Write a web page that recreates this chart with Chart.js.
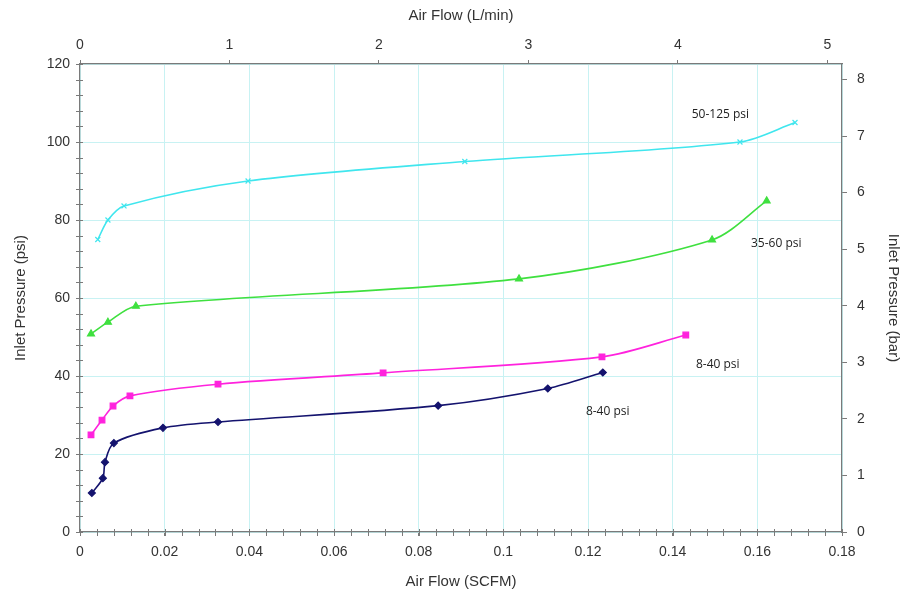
<!DOCTYPE html>
<html lang="en">
  <head>
    <meta charset="UTF-8" />
    <title>Inlet Pressure vs Air Flow</title>
    <script src="https://cdn.jsdelivr.net/npm/chart.js"></script>
    <style>
      html, body { margin: 0; padding: 0; background: #fff; }
      #wrap { width: 902px; height: 595px; }
    </style>
  </head>
  <body>
    <div id="wrap"><canvas id="chart" width="902" height="595"></canvas></div>
    <script>
      // data (x in SCFM, y in psi)
      const cyanX = [0.0042, 0.0066, 0.0104, 0.0397, 0.0909, 0.1559, 0.1689];
      const cyanY = [75, 80, 83.6, 90, 95, 100, 105];
      const greenX = [0.0026, 0.0066, 0.0132, 0.1037, 0.1493, 0.1622];
      const greenY = [50.8, 53.8, 57.9, 64.9, 74.9, 84.9];
      const pinkX = [0.0026, 0.0052, 0.0078, 0.0118, 0.0326, 0.0716, 0.1233, 0.1431];
      const pinkY = [24.9, 28.7, 32.3, 34.9, 37.9, 40.8, 44.9, 50.5];
      const navyX = [0.0028, 0.0054, 0.0059, 0.0080, 0.0196, 0.0326, 0.0846, 0.1105, 0.1235];
      const navyY = [10, 13.8, 17.9, 22.8, 26.7, 28.2, 32.4, 36.8, 40.9];

      const seriesNames = ['50-125 psi', '35-60 psi', '8-40 psi', '8-40 psi'];
      // where each series name sits, in data units
      const nameX = [0.1445, 0.1585, 0.1455, 0.1195];
      const nameY = [107, 74, 43, 31];

      // tick labels of the secondary axes
      const lpmTicks = [0, 1, 2, 3, 4, 5];
      const barTicks = [0, 1, 2, 3, 4, 5, 6, 7, 8];

      const SCFM_TO_LPM = 28.3168;
      const PSI_PER_BAR = 14.5038;
      const X_MAX = 0.18, Y_MAX = 120;

      const pts = (xs, ys) => xs.map((x, i) => ({ x: x, y: ys[i] }));

      const font = "'Liberation Sans', Arial, sans-serif";
      const tickFont = { family: font, size: 14 };
      const titleFont = { family: font, size: 15 };
      const gridCyan = '#c8f2f3';
      const axisGray = '#7a7a7a';

      function line(label, data, color, style, radius) {
        return {
          label: label, data: data, showLine: true,
          borderColor: color, backgroundColor: color, borderWidth: 1.6,
          pointStyle: style, pointRadius: radius, pointBorderWidth: 1.2,
          pointBorderColor: color, pointBackgroundColor: color,
          tension: 0.3
        };
      }

      // minor ticks on the left and bottom axes + series names
      const extras = {
        id: 'extras',
        afterDraw(chart) {
          const ctx = chart.ctx, xs = chart.scales.x, ys = chart.scales.y;
          const a = chart.chartArea;
          ctx.save();
          ctx.strokeStyle = axisGray;
          ctx.lineWidth = 1;
          ctx.beginPath();
          for (let v = 0; v <= Y_MAX + 0.01; v += 4) {
            const py = Math.round(ys.getPixelForValue(v)) + 0.5;
            ctx.moveTo(a.left - 4, py); ctx.lineTo(a.left + 3, py);
          }
          for (let i = 0; i <= 45; i++) {
            const px = Math.round(xs.getPixelForValue(i * 0.004)) + 0.5;
            ctx.moveTo(px, a.bottom - 3); ctx.lineTo(px, a.bottom + 4);
          }
          ctx.stroke();
          ctx.fillStyle = '#222';
          ctx.font = "12px 'Open Sans', sans-serif";
          ctx.textBaseline = 'middle';
          seriesNames.forEach((n, i) => {
            ctx.fillText(n, xs.getPixelForValue(nameX[i]), ys.getPixelForValue(nameY[i]));
          });
          ctx.restore();
        }
      };

      new Chart(document.getElementById('chart'), {
        type: 'scatter',
        data: {
          datasets: [
            line(seriesNames[0], pts(cyanX, cyanY), '#40e6ee', 'crossRot', 3.5),
            line(seriesNames[1], pts(greenX, greenY), '#3fe03f', 'triangle', 4),
            line(seriesNames[2], pts(pinkX, pinkY), '#ff22dd', 'rect', 4),
            line(seriesNames[3], pts(navyX, navyY), '#14136e', 'rectRot', 3.5)
          ]
        },
        plugins: [extras],
        options: {
          responsive: false,
          animation: false,
          layout: { padding: 0 },
          plugins: { legend: { display: false }, tooltip: { enabled: false } },
          scales: {
            x: {
              type: 'linear', position: 'bottom', min: 0, max: X_MAX,
              afterFit: s => { s.height = 63; },
              ticks: { stepSize: 0.02, color: '#333', font: tickFont, padding: 8,
                       callback: v => String(+v.toFixed(2)) },
              grid: { color: gridCyan, tickColor: axisGray, tickLength: 4 },
              border: { color: axisGray, width: 1.2 },
              title: { display: true, text: 'Air Flow (SCFM)', color: '#333', font: titleFont, padding: 4 }
            },
            x2: {
              type: 'linear', position: 'top', min: 0, max: X_MAX * SCFM_TO_LPM,
              afterFit: s => { s.height = 64; },
              afterBuildTicks: s => { s.ticks = lpmTicks.map(v => ({ value: v })); },
              ticks: { color: '#333', font: tickFont, padding: 6 },
              grid: { drawOnChartArea: false, tickColor: axisGray, tickLength: 4 },
              border: { color: axisGray, width: 1.2 },
              title: { display: true, text: 'Air Flow (L/min)', color: '#333', font: titleFont, padding: 7 }
            },
            y: {
              type: 'linear', position: 'left', min: 0, max: Y_MAX,
              afterFit: s => { s.width = 80; },
              ticks: { stepSize: 20, color: '#333', font: tickFont, padding: 6 },
              grid: { color: gridCyan, tickColor: axisGray, tickLength: 4 },
              border: { color: axisGray, width: 1.2 },
              title: { display: true, text: 'Inlet Pressure (psi)', color: '#333', font: titleFont, padding: 12 }
            },
            y2: {
              type: 'linear', position: 'right', min: 0, max: Y_MAX / PSI_PER_BAR,
              afterFit: s => { s.width = 60; },
              afterBuildTicks: s => { s.ticks = barTicks.map(v => ({ value: v })); },
              ticks: { color: '#333', font: tickFont, padding: 10 },
              grid: { drawOnChartArea: false, tickColor: axisGray, tickLength: 5 },
              border: { color: axisGray, width: 1.2 },
              title: { display: true, text: 'Inlet Pressure (bar)', color: '#333', font: titleFont, padding: 0 }
            }
          }
        }
      });
    </script>
  </body>
</html>
